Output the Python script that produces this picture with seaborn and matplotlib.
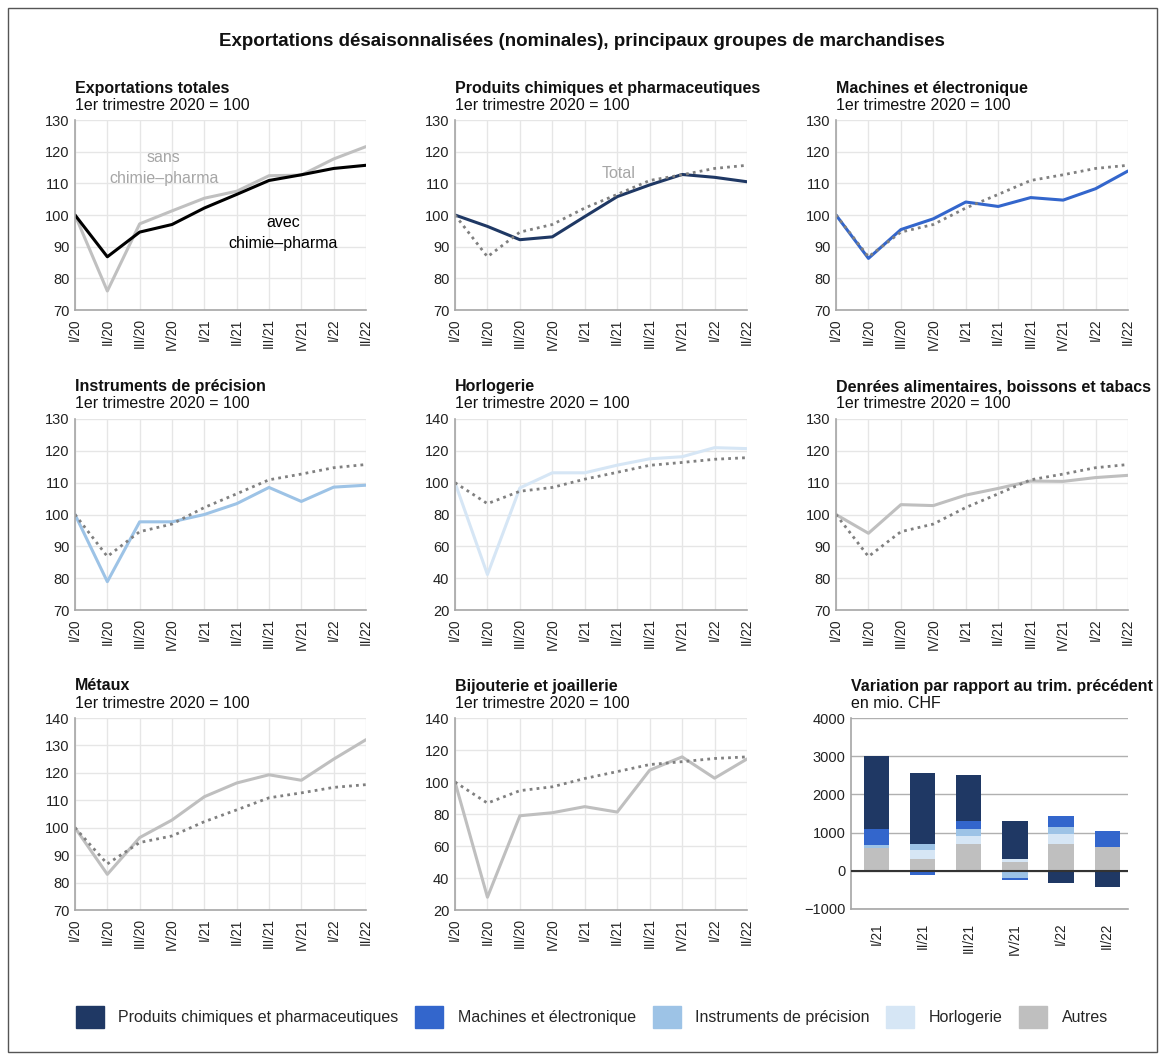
import matplotlib.pyplot as plt
import matplotlib.patches as mpatches
import numpy as np
import seaborn as sns

# Data
quarters = ['I/20', 'II/20', 'III/20', 'IV/20', 'I/21', 'II/21', 'III/21', 'IV/21', 'I/22', 'II/22']
total = [100, 86.8, 94.6, 97.0, 102.2, 106.5, 110.9, 112.7, 114.7, 115.7]
sans_pharma = [100, 76.0, 97.2, 101.3, 105.3, 107.5, 112.4, 112.6, 117.7, 121.6]
chimie = [100, 96.4, 92.2, 93.1, 99.5, 105.8, 109.5, 112.8, 111.9, 110.5]
machines = [100, 86.3, 95.4, 98.8, 104.1, 102.7, 105.5, 104.7, 108.3, 113.9]
instruments = [100, 78.9, 97.7, 97.7, 100.0, 103.4, 108.5, 104.1, 108.6, 109.2]
horlogerie = [100, 42.3, 96.7, 106.2, 106.2, 111.0, 115.0, 116.3, 122.0, 121.4]
denrees = [100, 94.1, 103.1, 102.8, 106.1, 108.2, 110.5, 110.4, 111.6, 112.3]
metaux = [100, 83.0, 96.4, 102.8, 111.3, 116.3, 119.3, 117.3, 125.0, 132.1]
bijouterie = [100, 28.0, 78.9, 80.8, 84.6, 81.2, 107.4, 115.7, 102.4, 114.4]

bar_quarters = ['I/21', 'II/21', 'III/21', 'IV/21', 'I/22', 'II/22']
bar_autres = [605, 307, 702, 228, 702, 623]
bar_horlogerie = [0, 237, 210, 79, 263, 0]
bar_instruments = [71, 158, 184, -193, 184, 0]
bar_machines = [420, -114, 211, -53, 287, 421]
bar_chimie = [1916, 1864, 1206, 998, -325, -430]

NAVY = '#1f3864'
BLUE = '#3366cc'
LIGHTBLUE = '#9dc3e6'
PALEBLUE = '#d6e6f5'
GRAY = '#bfbfbf'

W, H = 1163, 1059

sns.set_theme(style='white')
plt.rcParams['font.family'] = ['Liberation Sans', 'DejaVu Sans']

fig = plt.figure(figsize=(W / 100, H / 100), dpi=100)


def add_ax(l, t, r, b):
    return fig.add_axes([l / W, 1 - b / H, (r - l) / W, (b - t) / H])


def style_ax(ax):
    for s in ['top', 'right']:
        ax.spines[s].set_visible(False)
    for s in ['left', 'bottom']:
        ax.spines[s].set_color('#a6a6a6')
        ax.spines[s].set_linewidth(1.2)
    ax.tick_params(axis='y', length=0, pad=4, labelsize=10.5, labelcolor='#222222')
    ax.tick_params(axis='x', length=4, width=1, color='#a6a6a6', pad=2,
                   labelsize=9.8, labelcolor='#222222', labelrotation=90)


def panel_titles(l, t, title, sub='1er trimestre 2020 = 100'):
    fig.text(l / W, 1 - (t - 32) / H, title, fontsize=11.5, fontweight='bold',
             va='center', ha='left', color='#111111')
    fig.text(l / W, 1 - (t - 15) / H, sub, fontsize=11.5, va='center',
             ha='left', color='#111111')


cols = [(75, 366), (455, 747), (836, 1128)]
rows = [(120, 310), (419, 610), (718, 910)]
xpos = np.arange(len(quarters))

panels = [
    ('Exportations totales', None, NAVY, (70, 130, 10)),
    ('Produits chimiques et pharmaceutiques', chimie, NAVY, (70, 130, 10)),
    ('Machines et électronique', machines, BLUE, (70, 130, 10)),
    ('Instruments de précision', instruments, LIGHTBLUE, (70, 130, 10)),
    ('Horlogerie', horlogerie, PALEBLUE, (20, 140, 20)),
    ('Denrées alimentaires, boissons et tabacs', denrees, GRAY, (70, 130, 10)),
    ('Métaux', metaux, GRAY, (70, 140, 10)),
    ('Bijouterie et joaillerie', bijouterie, GRAY, (20, 140, 20)),
]

for i, (title, series, color, (lo, hi, step)) in enumerate(panels):
    r, c = divmod(i, 3)
    l, rr = cols[c]
    t, b = rows[r]
    ax = add_ax(l, t, rr, b)
    style_ax(ax)
    ax.set_xlim(0, 9)
    ax.set_ylim(lo, hi)
    ax.set_yticks(np.arange(lo, hi + 1, step))
    ax.set_xticks(xpos)
    ax.set_xticklabels(quarters)
    ax.grid(True, color='#e6e6e6', lw=1)
    ax.set_axisbelow(True)
    if series is None:
        sns.lineplot(x=xpos, y=sans_pharma, ax=ax, color='#c0c0c0', lw=2.2)
        sns.lineplot(x=xpos, y=total, ax=ax, color='black', lw=2.2)
        ax.text(2.75, 114.8, 'sans\nchimie–pharma', color='#a6a6a6', fontsize=11.5,
                ha='center', va='center', linespacing=1.5)
        ax.text(6.44, 94.4, 'avec\nchimie–pharma', color='black', fontsize=11.5,
                ha='center', va='center', linespacing=1.5)
    else:
        sns.lineplot(x=xpos, y=series, ax=ax, color=color, lw=2.2)
        sns.lineplot(x=xpos, y=total, ax=ax, color='#808080', lw=2,
                     linestyle=(0, (1, 1.5)))
        if i == 1:
            ax.text(5.03, 113, 'Total', color='#a6a6a6', fontsize=11.5,
                    ha='center', va='center')
    ax.set_xlabel('')
    ax.set_ylabel('')
    panel_titles(l, t, title)

# Stacked bar chart
axb = add_ax(851, 718, 1128, 909)
style_ax(axb)
axb.set_ylim(-1000, 4000)
axb.set_yticks(np.arange(-1000, 4001, 1000))
axb.yaxis.grid(True, color='#b0b0b0', lw=1)
axb.set_axisbelow(True)
bpos = np.arange(len(bar_quarters))
pos_bottom = np.zeros(len(bar_quarters))
neg_bottom = np.zeros(len(bar_quarters))
stack = [(bar_autres, GRAY), (bar_horlogerie, PALEBLUE), (bar_instruments, LIGHTBLUE),
         (bar_machines, BLUE), (bar_chimie, NAVY)]
for vals, col in stack:
    vals = np.array(vals, dtype=float)
    bottoms = np.where(vals >= 0, pos_bottom, neg_bottom)
    axb.bar(bpos, vals, bottom=bottoms, width=0.55, color=col, linewidth=0, zorder=2)
    pos_bottom = pos_bottom + np.where(vals >= 0, vals, 0)
    neg_bottom = neg_bottom + np.where(vals < 0, vals, 0)
axb.axhline(0, color='#333333', lw=1.5, zorder=3)
axb.set_xlim(-0.55, 5.45)
axb.set_xticks(bpos)
axb.set_xticklabels(bar_quarters)
axb.tick_params(axis='x', length=6, pad=4)
panel_titles(851, 718, 'Variation par rapport au trim. précédent', 'en mio. CHF')

# Main title
fig.text(0.5, 1 - 41 / H, 'Exportations désaisonnalisées (nominales), principaux groupes de marchandises',
         fontsize=13.5, fontweight='bold', ha='center', va='center', color='#111111')

# Legend
labels = ['Produits chimiques et pharmaceutiques', 'Machines et électronique',
          'Instruments de précision', 'Horlogerie', 'Autres']
colors = [NAVY, BLUE, LIGHTBLUE, PALEBLUE, GRAY]
handles = [mpatches.Patch(color=c, label=lab) for c, lab in zip(colors, labels)]
fig.legend(handles=handles, loc='center', bbox_to_anchor=(592 / W, 1 - 1017 / H),
           ncol=5, frameon=False, fontsize=11.5, handlelength=1.75, handleheight=1.75,
           handletextpad=0.9, columnspacing=1.05)

# Outer frame
fig.patches.append(mpatches.Rectangle((8 / W, 1 - 1052 / H), (1157 - 8) / W, (1052 - 8) / H,
                                      transform=fig.transFigure, fill=False,
                                      edgecolor='#555555', lw=1))

fig.savefig('out.png', dpi=100)
